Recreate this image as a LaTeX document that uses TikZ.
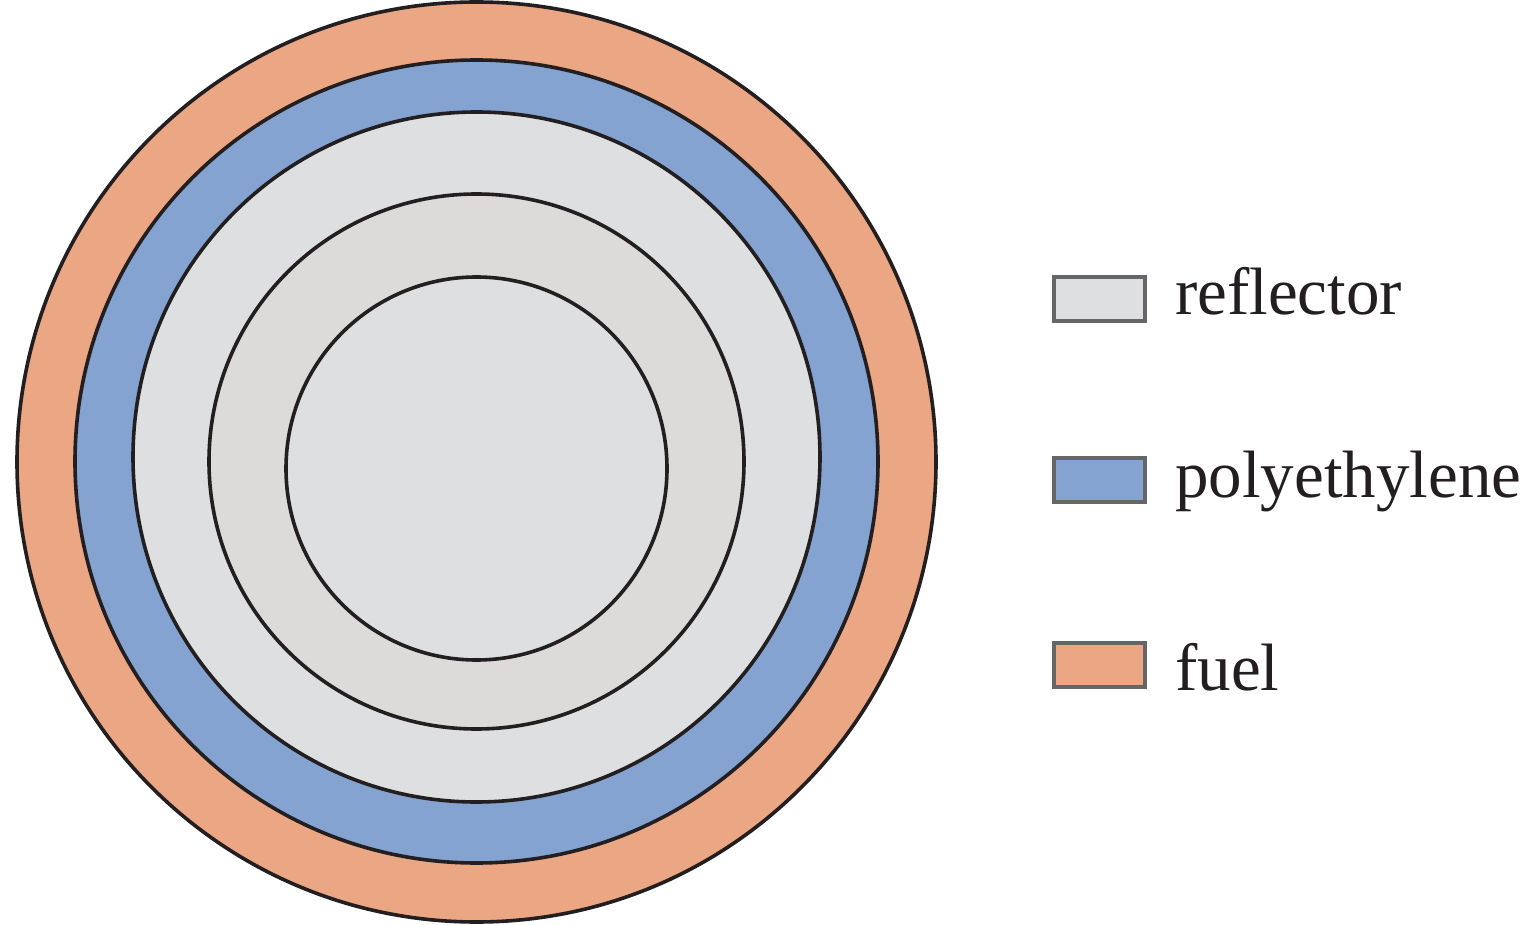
\documentclass[tikz,border=0pt]{standalone}
\usepackage{fontspec}
\setmainfont{Liberation Serif}
\definecolor{fuelc}{HTML}{EBA684}
\definecolor{polyc}{HTML}{84A3D0}
\definecolor{reflc}{HTML}{DEDFE1}
\definecolor{midc}{HTML}{DCDBD9}
\definecolor{linec}{HTML}{231F20}
\definecolor{boxline}{HTML}{666666}
\tikzset{
  ring/.style={draw=linec, line width=3.6pt},
  legbox/.style={draw=boxline, line width=4pt, minimum width=91pt, minimum height=44pt, inner sep=0pt},
  legtext/.style={anchor=base west, inner sep=0pt, text=linec, font=\fontsize{67}{70}\selectfont}
}
\begin{document}
\begin{tikzpicture}[x=1pt,y=-1pt]
\useasboundingbox (0,0) rectangle (1535,925);
% concentric rings, outer to inner
\draw[ring, fill=fuelc] (476.5,462) ellipse [x radius=459.5, y radius=460];
\draw[ring, fill=polyc] (476.5,461.5) ellipse [x radius=401.5, y radius=401.5];
\draw[ring, fill=reflc] (476.5,457) ellipse [x radius=343.5, y radius=345];
\draw[ring, fill=midc] (476.5,461.5) ellipse [x radius=267.5, y radius=267.5];
\draw[ring, fill=reflc] (476.5,468.5) ellipse [x radius=190.5, y radius=191.5];
% legend
\node[legbox, fill=reflc] (b1) at (1099.5,299) {};
\node[legbox, fill=polyc] (b2) at (1099.5,479.5) {};
\node[legbox, fill=fuelc] (b3) at (1099.5,664.5) {};
\node[legtext] (t1) at (1175,315) {reflector};
\node[legtext] (t2) at (1175,497) {polyethylene};
\node[legtext] (t3) at (1175,690) {fuel};
\end{tikzpicture}
\end{document}
